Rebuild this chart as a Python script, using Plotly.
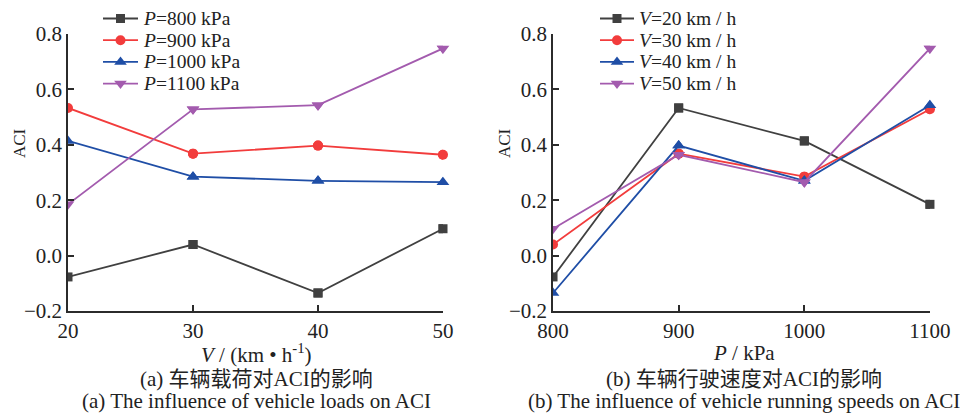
import plotly.graph_objects as go

# ACI for each load level P (kPa) across vehicle speeds V (km/h)
speeds = [20, 30, 40, 50]
loads = [800, 900, 1000, 1100]

aci_p800 = [-0.077, 0.040, -0.135, 0.097]
aci_p900 = [0.533, 0.368, 0.397, 0.364]
aci_p1000 = [0.414, 0.285, 0.270, 0.265]
aci_p1100 = [0.185, 0.528, 0.543, 0.748]

# Same results regrouped by speed, plotted against load
aci_v20 = [-0.077, 0.533, 0.414, 0.185]
aci_v30 = [0.040, 0.368, 0.285, 0.528]
aci_v40 = [-0.135, 0.397, 0.270, 0.543]
aci_v50 = [0.097, 0.364, 0.265, 0.748]

y_ticks = [-0.2, 0.0, 0.2, 0.4, 0.6, 0.8]

left_names = ["<i>P</i>=800 kPa", "<i>P</i>=900 kPa", "<i>P</i>=1000 kPa", "<i>P</i>=1100 kPa"]
right_names = ["<i>V</i>=20 km / h", "<i>V</i>=30 km / h", "<i>V</i>=40 km / h", "<i>V</i>=50 km / h"]

colors = ["#404040", "#f23c3c", "#1f4ea6", "#a35bae"]
symbols = ["square", "circle", "triangle-up", "triangle-down"]
sizes = [9, 10, 11, 11]

FONT = "Liberation Serif, Noto Sans CJK SC, serif"
FS = 21
LEGEND_FS = 19.5
TEXT_COLOR = "#222"
AXIS_COLOR = "#2b2b2b"
W, H = 966, 414

fig = go.Figure()


def add_series(x, y, i, xa, ya):
    marker = dict(symbol=symbols[i], size=sizes[i], color=colors[i])
    # full line; markers clipped at the left edge of the plot area
    fig.add_trace(go.Scatter(
        x=x, y=y, mode="lines+markers",
        line=dict(color=colors[i], width=1.8), marker=marker,
        xaxis=xa, yaxis=ya, cliponaxis=True, showlegend=False,
    ))
    # remaining markers drawn unclipped so the right edge shows them whole
    fig.add_trace(go.Scatter(
        x=x[1:], y=y[1:], mode="markers", marker=marker, showlegend=False,
        xaxis=xa, yaxis=ya, cliponaxis=False, hoverinfo="skip",
    ))


for i, ys in enumerate([aci_p800, aci_p900, aci_p1000, aci_p1100]):
    add_series(speeds, ys, i, "x", "y")
for i, ys in enumerate([aci_v20, aci_v30, aci_v40, aci_v50]):
    add_series(loads, ys, i, "x2", "y2")

# Compact legends (tighter row spacing than the built-in legend allows),
# laid out in pixel units on a hidden full-page axis pair.
ROW0, ROW_STEP = 18.5, 21.7
legend_blocks = [
    (103, 138, 142, left_names),
    (600, 634, 638, right_names),
]
for x0, x1, xt, names in legend_blocks:
    for i, name in enumerate(names):
        row = ROW0 + ROW_STEP * i
        fig.add_trace(go.Scatter(
            x=[x0, x1], y=[row, row], mode="lines",
            line=dict(color=colors[i], width=1.8),
            xaxis="x3", yaxis="y3", showlegend=False, hoverinfo="skip", cliponaxis=False,
        ))
        fig.add_trace(go.Scatter(
            x=[(x0 + x1) / 2], y=[row], mode="markers",
            marker=dict(symbol=symbols[i], size=sizes[i], color=colors[i]),
            xaxis="x3", yaxis="y3", showlegend=False, hoverinfo="skip", cliponaxis=False,
        ))
        fig.add_annotation(x=xt / W, y=1 - row / H, xref="paper", yref="paper",
                           text=name, showarrow=False, xanchor="left", yanchor="middle",
                           height=21, borderpad=0,
                           font=dict(family=FONT, size=LEGEND_FS, color=TEXT_COLOR))

axis_common = dict(
    showline=True, linecolor=AXIS_COLOR, linewidth=1.6,
    ticks="inside", ticklen=6, tickwidth=1.6, tickcolor=AXIS_COLOR,
    showgrid=False, zeroline=False, automargin=False,
    tickfont=dict(family=FONT, size=FS, color=TEXT_COLOR),
)

y_dom = [0.2488, 0.9179]

fig.update_layout(
    width=W, height=H,
    margin=dict(l=0, r=0, t=0, b=0),
    paper_bgcolor="white", plot_bgcolor="rgba(0,0,0,0)",
    font=dict(family=FONT, size=FS, color=TEXT_COLOR),
    showlegend=False,
    xaxis=dict(domain=[0.0704, 0.4586], range=[20, 50], tickvals=speeds,
               anchor="y", **axis_common),
    yaxis=dict(domain=y_dom, range=[-0.2, 0.8], tickvals=y_ticks, tickformat=".1f",
               anchor="x", **axis_common),
    xaxis2=dict(domain=[0.5725, 0.9627], range=[800, 1100], tickvals=loads,
                anchor="y2", **axis_common),
    yaxis2=dict(domain=y_dom, range=[-0.2, 0.8], tickvals=y_ticks, tickformat=".1f",
                anchor="x2", **axis_common),
    xaxis3=dict(domain=[0, 1], range=[0, W], visible=False, anchor="y3", fixedrange=True),
    yaxis3=dict(domain=[0, 1], range=[H, 0], visible=False, anchor="x3", fixedrange=True),
)

# y-axis titles
for ax_px in (19, 504):
    fig.add_annotation(x=ax_px / W, y=1 - 143 / H, xref="paper", yref="paper",
                       text="ACI", textangle=-90, showarrow=False,
                       xanchor="center", yanchor="middle",
                       font=dict(family=FONT, size=17, color=TEXT_COLOR))

# x-axis titles and the two-line captions under each panel
panels = [
    (256 / W, "<i>V</i> / (km • h<sup>-1</sup>)",
     "(a) 车辆载荷对ACI的影响", "(a) The influence of vehicle loads on ACI"),
    (744 / W, "<i>P</i> / kPa",
     "(b) 车辆行驶速度对ACI的影响", "(b) The influence of vehicle running speeds on ACI"),
]
for cx, xtitle, zh, en in panels:
    for text, ypx in ((xtitle, 353), (zh, 379), (en, 401)):
        fig.add_annotation(x=cx, y=1 - ypx / H, xref="paper", yref="paper",
                           text=text, showarrow=False, xanchor="center", yanchor="middle",
                           font=dict(family=FONT, size=FS, color=TEXT_COLOR))

fig.write_html("out.html")
